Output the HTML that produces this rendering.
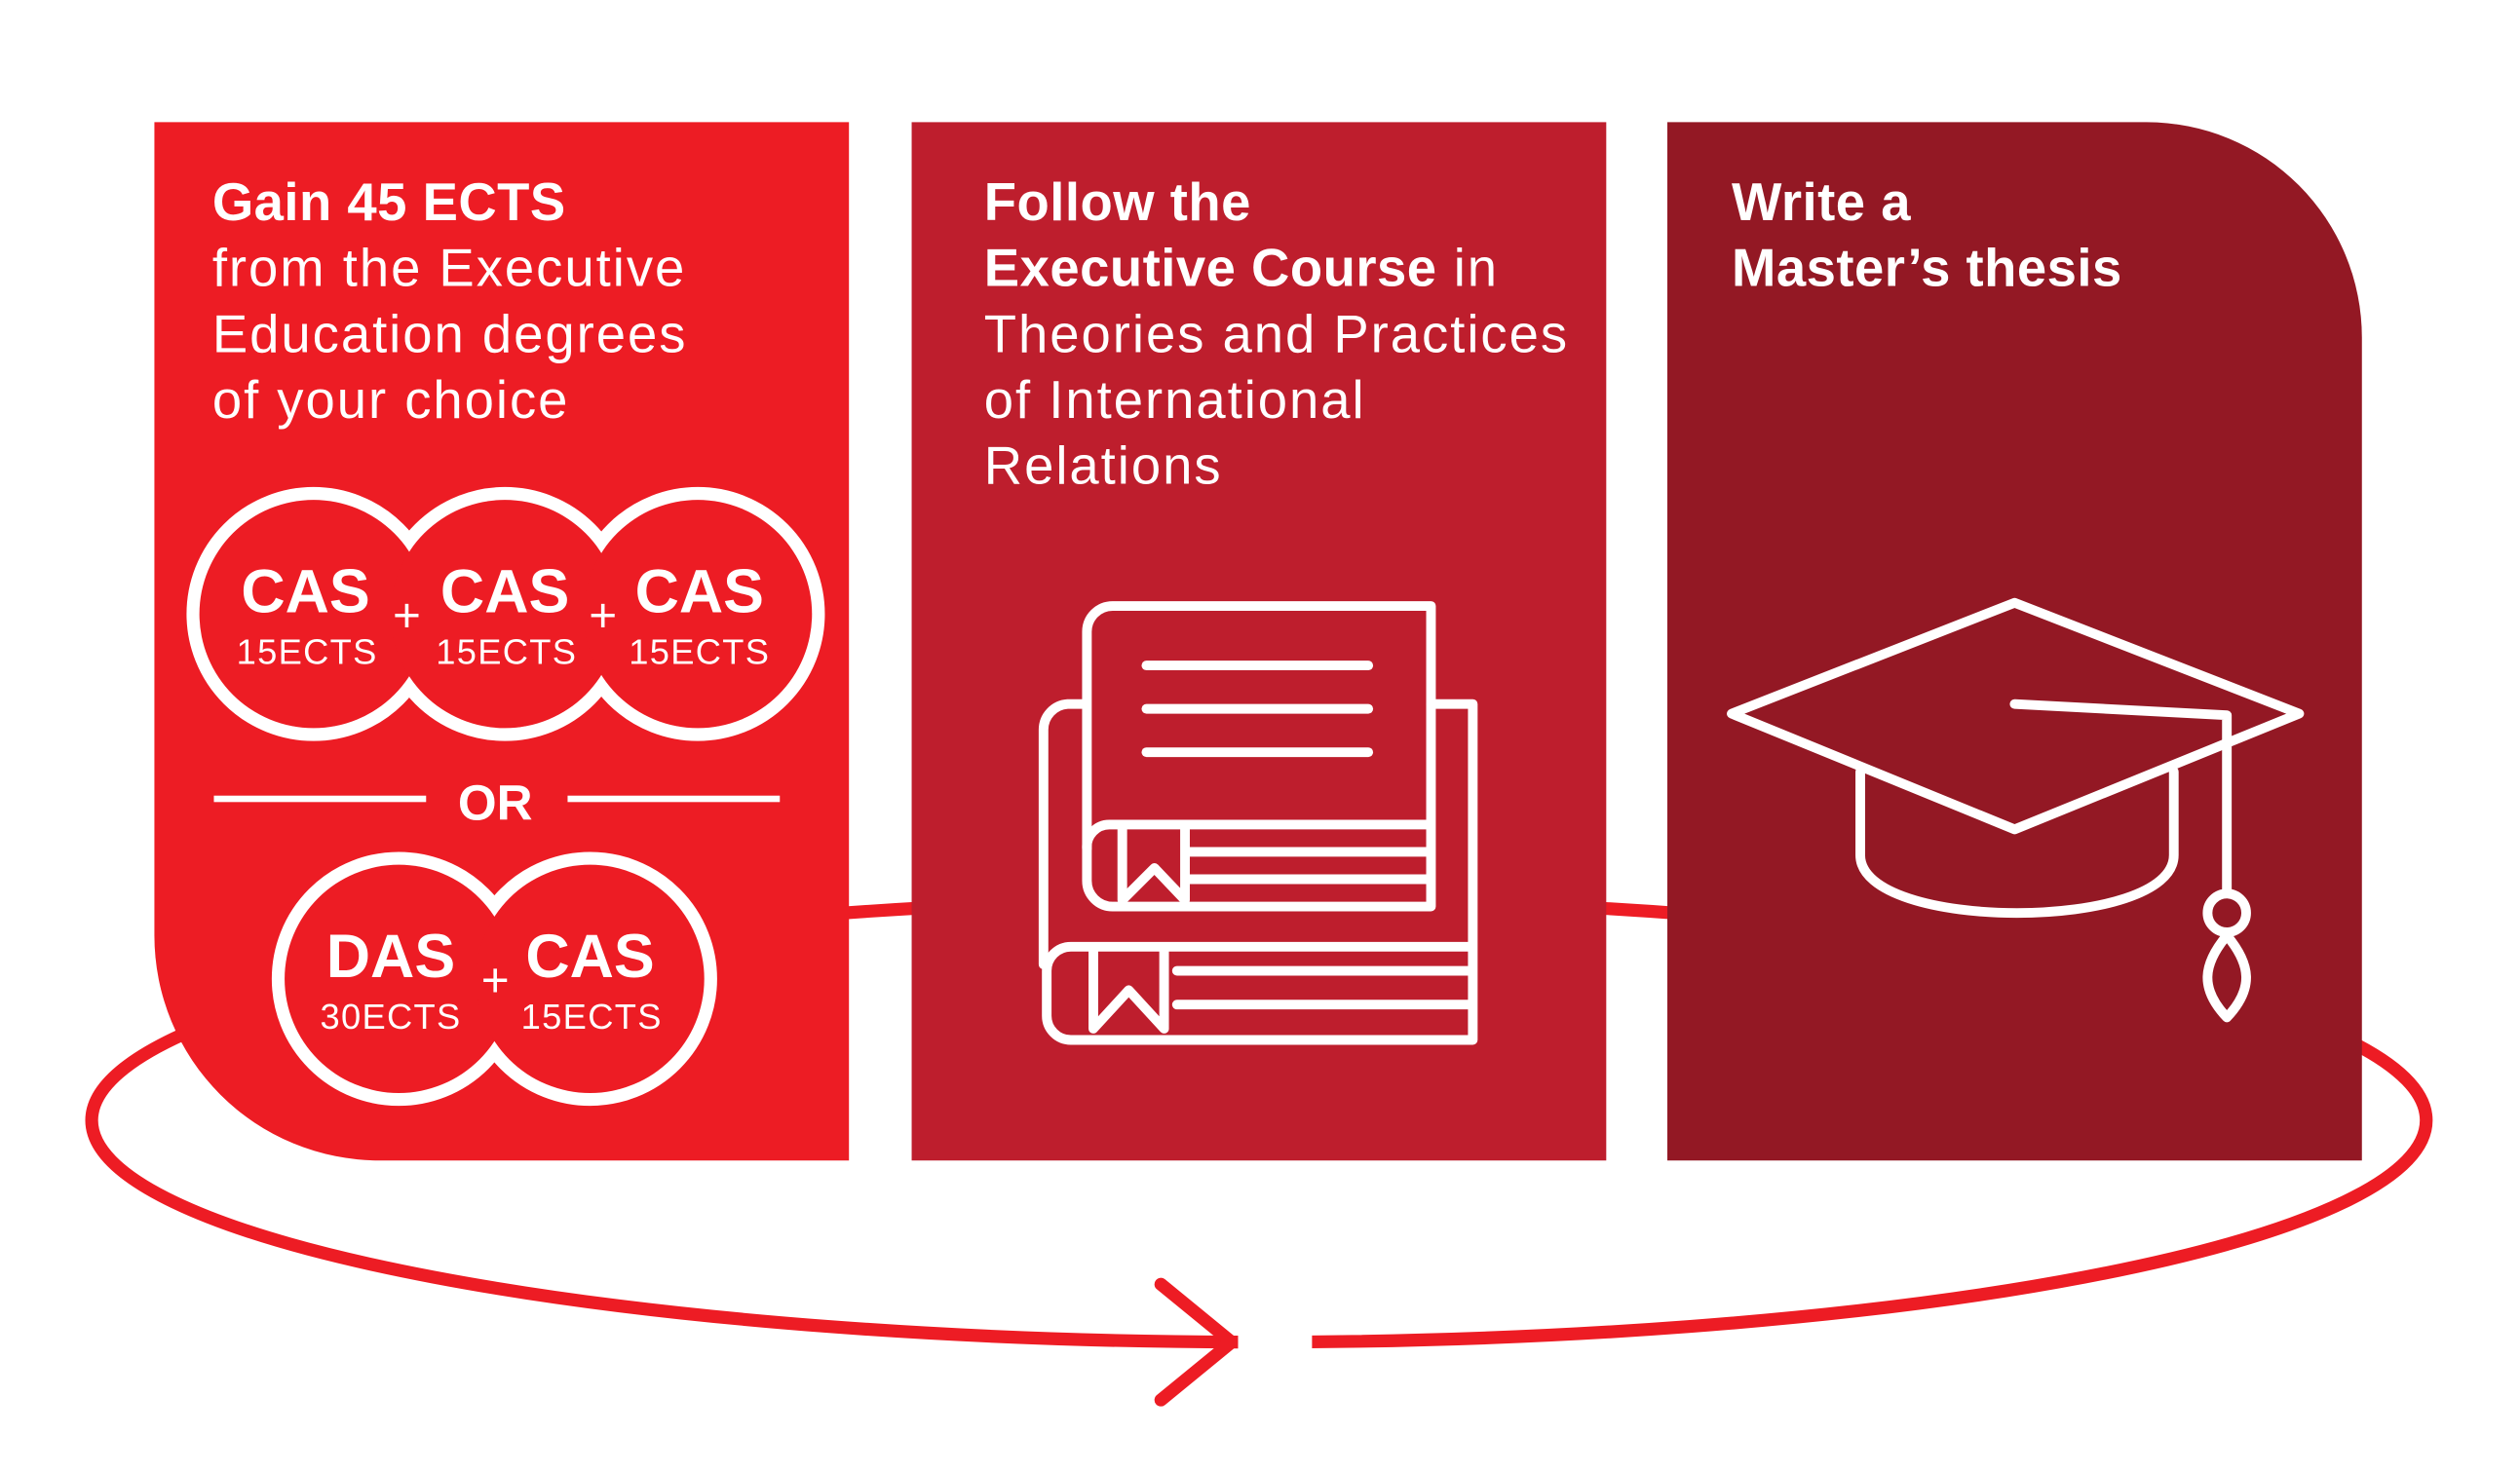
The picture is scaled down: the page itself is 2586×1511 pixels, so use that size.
<!DOCTYPE html>
<html><head><meta charset="utf-8"><style>
html,body{margin:0;padding:0;background:#fff;}
svg{display:block;}
text{font-family:"Liberation Sans",sans-serif;fill:#fff;}
</style></head><body>
<svg width="2586" height="1511" viewBox="0 0 1567.3 915.8" xmlns="http://www.w3.org/2000/svg">
<rect width="1567.3" height="915.8" fill="#fff"/>
<ellipse cx="783" cy="697" rx="726" ry="138" fill="none" stroke="#ED1C24" stroke-width="8"/>
<rect x="770" y="820" width="46" height="30" fill="#fff"/>
<polyline points="722,799 766,835 722,871" fill="none" stroke="#ED1C24" stroke-width="8" stroke-linecap="round" stroke-linejoin="round"/>
<path d="M96,76 H528 V722 H236 A140,140 0 0 1 96,582 Z" fill="#ED1C24"/>
<rect x="567" y="76" width="432" height="646" fill="#BE1E2D"/>
<path d="M1037,76 H1335 A134,134 0 0 1 1469,210 V722 H1037 Z" fill="#931824"/>

<g font-size="33" letter-spacing="1.2">
<text x="132" y="137" font-weight="bold" letter-spacing="0.3">Gain 45 ECTS</text>
<text x="132" y="178">from the Executive</text>
<text x="132" y="219">Education degrees</text>
<text x="132" y="260">of your choice</text>
<text x="612" y="137" font-weight="bold" letter-spacing="0.3">Follow the</text>
<text x="612" y="178"><tspan font-weight="bold" letter-spacing="0.3">Executive Course</tspan> in</text>
<text x="612" y="219">Theories and Practices</text>
<text x="612" y="260">of International</text>
<text x="612" y="301">Relations</text>
<text x="1077" y="137" font-weight="bold" letter-spacing="0.3">Write a</text>
<text x="1077" y="178" font-weight="bold" letter-spacing="0.3">Master’s thesis</text>
</g>

<g stroke="#fff" stroke-width="8" fill="#fff">
<circle cx="195" cy="382" r="75"/><circle cx="314" cy="382" r="75"/><circle cx="434" cy="382" r="75"/>
<circle cx="248" cy="609" r="75"/><circle cx="367" cy="609" r="75"/>
</g>
<g fill="#ED1C24">
<circle cx="195" cy="382" r="71"/><circle cx="314" cy="382" r="71"/><circle cx="434" cy="382" r="71"/>
<circle cx="248" cy="609" r="71"/><circle cx="367" cy="609" r="71"/>
</g>
<g text-anchor="middle">
<text x="190" y="381" font-size="38" font-weight="bold">CAS</text>
<text x="314" y="381" font-size="38" font-weight="bold">CAS</text>
<text x="435" y="381" font-size="38" font-weight="bold">CAS</text>
<text x="191" y="413" font-size="22" letter-spacing="0.8">15ECTS</text>
<text x="315" y="413" font-size="22" letter-spacing="0.8">15ECTS</text>
<text x="435" y="413" font-size="22" letter-spacing="0.8">15ECTS</text>
<text x="253" y="393" font-size="30">+</text>
<text x="375" y="393" font-size="30">+</text>
<text x="243" y="608" font-size="38" font-weight="bold">DAS</text>
<text x="367" y="608" font-size="38" font-weight="bold">CAS</text>
<text x="243" y="640" font-size="22" letter-spacing="0.8">30ECTS</text>
<text x="368" y="640" font-size="22" letter-spacing="0.8">15ECTS</text>
<text x="308" y="620" font-size="30">+</text>
<text x="308" y="510" font-size="31" font-weight="bold">OR</text>
</g>
<rect x="133" y="495" width="132" height="4" fill="#fff"/>
<rect x="353" y="495" width="132" height="4" fill="#fff"/>

<g fill="none" stroke="#fff" stroke-width="6" stroke-linejoin="round" stroke-linecap="round">
<path d="M890,438 H916 V647 H666 A15,15 0 0 1 651,632 V604 A15,15 0 0 1 666,589 H913"/>
<path d="M673,438 H664 A16,16 0 0 0 649,454 V600"/>
<line x1="732" y1="604" x2="913" y2="604"/>
<line x1="732" y1="625" x2="913" y2="625"/>
<path d="M680,592 V640 L702,616 L724,640 V592"/>
<path d="M890,377 V564 H692 A16,16 0 0 1 676,548 V393 A16,16 0 0 1 692,377 Z"/>
<path d="M676,528 A14,14 0 0 1 690,513 H887"/>
<line x1="740" y1="530" x2="887" y2="530"/>
<line x1="740" y1="547" x2="887" y2="547"/>
<path d="M698,516 V560 L718,540 L737,560 V516"/>
<line x1="713" y1="414" x2="851" y2="414"/>
<line x1="713" y1="441" x2="851" y2="441"/>
<line x1="713" y1="468" x2="851" y2="468"/>
</g>

<g fill="none" stroke="#fff" stroke-width="6" stroke-linejoin="round" stroke-linecap="round">
<path d="M1077,444 L1253,375 L1430,444 L1253,516 Z"/>
<path d="M1157,480 V532 C1157,580 1352,580 1352,532 V480"/>
<path d="M1253,438 L1385,445 V555"/>
<circle cx="1385" cy="568" r="12"/>
<path d="M1385,582 C1370,600 1368,615 1385,633 C1402,615 1400,600 1385,582 Z"/>
</g>
</svg>
</body></html>
